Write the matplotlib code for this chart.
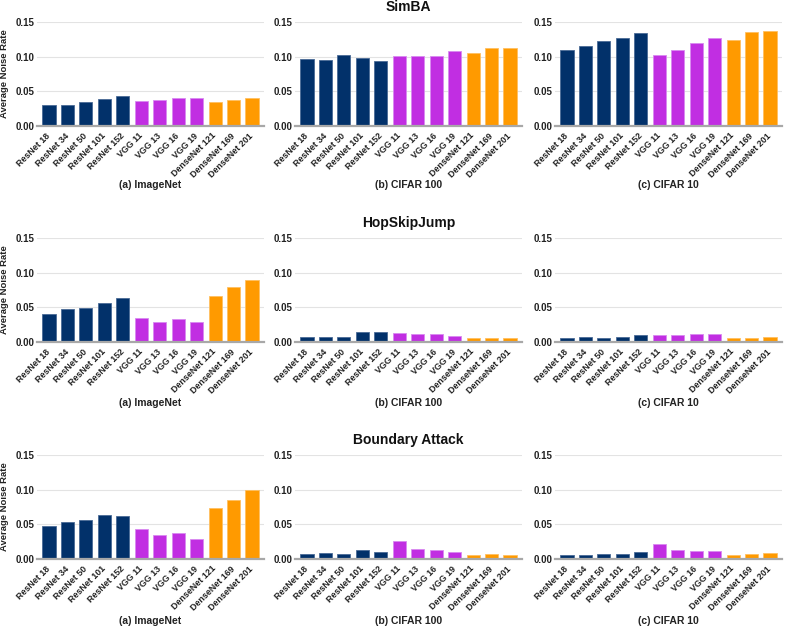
import matplotlib
matplotlib.use("Agg")
import matplotlib.pyplot as plt
import numpy as np

plt.rcParams['font.family'] = ['Liberation Sans', 'DejaVu Sans']
plt.rcParams['font.weight'] = 'bold'

models = ["ResNet 18", "ResNet 34", "ResNet 50", "ResNet 101", "ResNet 152",
          "VGG 11", "VGG 13", "VGG 16", "VGG 19",
          "DenseNet 121", "DenseNet 169", "DenseNet 201"]
families = ["ResNet"] * 5 + ["VGG"] * 4 + ["DenseNet"] * 3
family_colors = {"ResNet": "#02316a", "VGG": "#c12ee2", "DenseNet": "#ff9a00"}
family_edges = {"ResNet": "#4a6a96", "VGG": "#d88af0", "DenseNet": "#ffc060"}

attacks = ["SimBA", "HopSkipJump", "Boundary Attack"]
datasets = ["(a) ImageNet", "(b) CIFAR 100", "(c) CIFAR 10"]

simba_imagenet = [0.030, 0.030, 0.0345, 0.039, 0.043, 0.0355, 0.038, 0.040, 0.041, 0.034, 0.0375, 0.040]
simba_cifar100 = [0.096, 0.0947, 0.103, 0.0976, 0.0938, 0.101, 0.101, 0.1005, 0.1087, 0.1048, 0.113, 0.112]
simba_cifar10 = [0.1096, 0.115, 0.122, 0.127, 0.1337, 0.1024, 0.109, 0.120, 0.127, 0.124, 0.1356, 0.1365]

hsj_imagenet = [0.040, 0.0474, 0.0489, 0.0566, 0.0629, 0.0353, 0.0295, 0.0329, 0.0295, 0.0663, 0.0789, 0.0895]
hsj_cifar100 = [0.0068, 0.0077, 0.0077, 0.014, 0.014, 0.0135, 0.0116, 0.011, 0.0092, 0.0053, 0.0058, 0.0063]
hsj_cifar10 = [0.0063, 0.0068, 0.0063, 0.0077, 0.0097, 0.0106, 0.0097, 0.011, 0.011, 0.0053, 0.0063, 0.0073]

ba_imagenet = [0.048, 0.0537, 0.056, 0.0632, 0.0618, 0.0436, 0.035, 0.0379, 0.0288, 0.0733, 0.0858, 0.1001]
ba_cifar100 = [0.0077, 0.0086, 0.0072, 0.0134, 0.0101, 0.0259, 0.0149, 0.0129, 0.0105, 0.0058, 0.0072, 0.0062]
ba_cifar10 = [0.0062, 0.0062, 0.0072, 0.0072, 0.0101, 0.0216, 0.0134, 0.0115, 0.012, 0.0062, 0.0067, 0.0081]

data = [[simba_imagenet, simba_cifar100, simba_cifar10],
        [hsj_imagenet, hsj_cifar100, hsj_cifar10],
        [ba_imagenet, ba_cifar100, ba_cifar10]]

yticks = [0.00, 0.05, 0.10, 0.15]
ytick_labels = ["0.00", "0.05", "0.10", "0.15"]

W, H = 789, 626
fig = plt.figure(figsize=(W / 100, H / 100), dpi=100)

col_left = [37, 295, 555]
col_w = 227
row_top = [22, 238, 455]
row_h = 104
xlabel_off = [59, 61, 62]

colors = [family_colors[f] for f in families]
edges = [family_edges[f] for f in families]
x = np.arange(len(models))

for r in range(3):
    for c in range(3):
        ax = fig.add_axes([col_left[c] / W, 1 - (row_top[r] + row_h) / H, col_w / W, row_h / H])
        ax.bar(x, data[r][c], width=0.71, color=colors, edgecolor=edges, linewidth=0.6, zorder=3)
        ax.set_xlim(-0.65, len(models) - 0.35)
        ax.set_ylim(0, 0.15)
        ax.set_yticks(yticks)
        ax.set_yticklabels(ytick_labels, fontsize=7, fontweight='bold', color='#222222')
        ax.set_xticks(x)
        ax.set_xticklabels(models, rotation=45, ha='right', va='center', rotation_mode='anchor',
                           fontsize=6.4, fontweight='bold', color='#222222')
        ax.tick_params(axis='both', length=0)
        ax.tick_params(axis='y', pad=2)
        ax.tick_params(axis='x', pad=6)
        ax.grid(axis='y', color='#e3e3e3', linewidth=0.8, zorder=0)
        for s in ['top', 'right', 'left']:
            ax.spines[s].set_visible(False)
        ax.spines['bottom'].set_color('#a8a8a8')
        ax.spines['bottom'].set_linewidth(1.6)
        ax.spines['bottom'].set_zorder(4)
        ax.text(0.5, -xlabel_off[r] / row_h, datasets[c], transform=ax.transAxes,
                ha='center', va='center', fontsize=7.5, fontweight='bold', color='#222222')
        if c == 0:
            ax.set_ylabel("Average Noise Rate", fontsize=6.8, fontweight='bold', color='#222222')
            ax.yaxis.label.set_va('center')
            ax.yaxis.set_label_coords(-32 / col_w, 0.5)
        if c == 1:
            ax.set_title(attacks[r], fontsize=10, fontweight='bold', pad=8, color='#111111')

fig.savefig("out.png", dpi=100, facecolor='white')
